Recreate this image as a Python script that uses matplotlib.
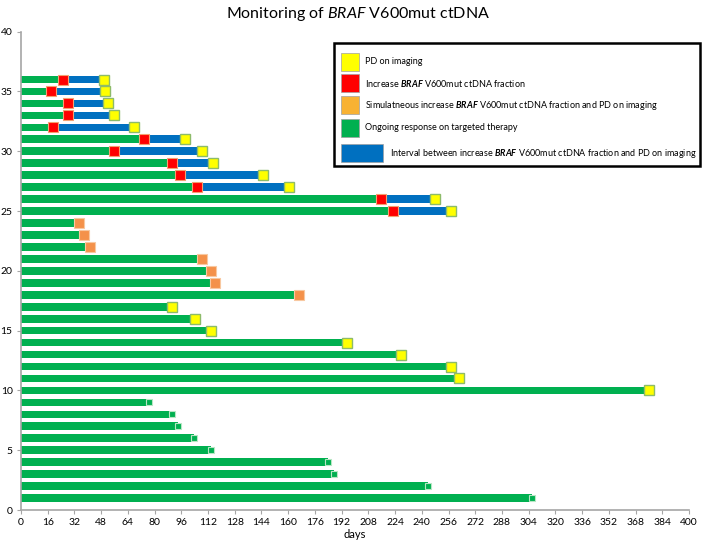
import matplotlib
matplotlib.use("Agg")
import matplotlib.pyplot as plt
from matplotlib.patches import Rectangle

plt.rcParams['font.family'] = ['Lato', 'DejaVu Sans']
plt.rcParams['mathtext.fontset'] = 'custom'
plt.rcParams['mathtext.rm'] = 'Lato'
plt.rcParams['mathtext.it'] = 'Lato:italic'
plt.rcParams['mathtext.bf'] = 'Lato:bold'
plt.rcParams['mathtext.bfit'] = 'Lato:italic:bold'

# ongoing response (rows 1-9): end of follow-up in days
ongoing_rows = [1, 2, 3, 4, 5, 6, 7, 8, 9]
ongoing_days = [306, 243.6, 187.5, 183.7, 113.9, 103.8, 94.2, 90.3, 76.6]

# PD on imaging only (rows 10-17)
pd_rows = [10, 11, 12, 13, 14, 15, 16, 17]
pd_days = [376, 262.5, 257.3, 227.5, 195, 114, 104.2, 90.2]

# simultaneous ctDNA increase and PD (rows 18-24)
sim_rows = [18, 19, 20, 21, 22, 23, 24]
sim_days = [166.7, 116.3, 114, 108.4, 41.5, 37.5, 34.7]

# ctDNA increase before PD (rows 25-36)
int_rows = [25, 26, 27, 28, 29, 30, 31, 32, 33, 34, 35, 36]
int_red = [223, 215.8, 105.4, 95.4, 90.4, 55.7, 73.7, 19.2, 28, 28, 18, 25]
int_pd = [257.3, 248, 160.3, 145, 115, 108.2, 98.4, 67.5, 55.7, 52.3, 50.5, 49.5]

GREEN = '#00B050'
RED = '#FF0000'
BLUE = '#0070C0'
YELLOW = '#FFFF00'
ORANGE = '#F4914A'
ORANGE_LEG = '#F8B233'

fig = plt.figure(figsize=(7.09, 5.45), dpi=100)
ax = fig.add_axes([21 / 709, 1 - 510 / 545, 668 / 709, 478.3 / 545])

h = 0.64
ax.barh(ongoing_rows, ongoing_days, height=h, color=GREEN, zorder=2)
ax.barh(pd_rows, pd_days, height=h, color=GREEN, zorder=2)
ax.barh(sim_rows, sim_days, height=h, color=GREEN, zorder=2)
ax.barh(int_rows, int_red, height=h, color=GREEN, zorder=2)
ax.barh(int_rows, [p - r for p, r in zip(int_pd, int_red)], left=int_red,
        height=h, color=BLUE, zorder=2)

ax.plot(ongoing_days, ongoing_rows, 's', ms=5, color=GREEN, mec='#B8E6C4',
        mew=0.8, zorder=3)
ax.plot(pd_days, pd_rows, 's', ms=6.8, color=YELLOW, mec='#8DBB6A',
        mew=1.0, zorder=3)
ax.plot(sim_days, sim_rows, 's', ms=7.2, color=ORANGE, mec='#F8C8A0',
        mew=0.8, zorder=3)
ax.plot(int_red, int_rows, 's', ms=7.6, color=RED, mec='#F4A070',
        mew=0.8, zorder=3)
ax.plot(int_pd, int_rows, 's', ms=6.8, color=YELLOW, mec='#8DBB6A',
        mew=1.0, zorder=3)

ax.set_xlim(0, 400)
ax.set_ylim(0, 40)
ax.set_xticks(range(0, 401, 16))
ax.set_yticks(range(0, 41, 5))
for s in ['top', 'right']:
    ax.spines[s].set_visible(False)
for s in ['left', 'bottom']:
    ax.spines[s].set_color('#A6A6A6')
    ax.spines[s].set_linewidth(1.2)
ax.tick_params(direction='out', length=3, color='#A6A6A6', labelsize=7.5,
               pad=3)
ax.set_xlabel('days', fontsize=8, labelpad=1)

fig.text(358 / 709, 1 - 14 / 545, r'Monitoring of $\mathit{BRAF}$ V600mut ctDNA',
         ha='center', va='center', fontsize=11.5)


# legend drawn by hand in pixel coords
def fx(x):
    return x / 709


def fy(y):
    return 1 - y / 545


fig.add_artist(Rectangle((fx(334), fy(166)), fx(700) - fx(334), fy(43) - fy(166),
                         transform=fig.transFigure, fill=False, ec='black', lw=1.8))

leg_cols = [YELLOW, RED, ORANGE_LEG, GREEN]
leg_y = [62, 83, 105, 128]
leg_txt = ['PD on imaging',
           r'Increase $\mathbfit{BRAF}$ V600mut ctDNA fraction',
           r'Simulatneous increase $\mathbfit{BRAF}$ V600mut ctDNA fraction and PD on imaging',
           'Ongoing response on targeted therapy']
for c, y, t in zip(leg_cols, leg_y, leg_txt):
    fig.add_artist(Rectangle((fx(341), fy(y + 9)), fx(18), 18 / 545,
                             transform=fig.transFigure, fc=c, ec='#A0A0A0', lw=0.5))
    fig.text(fx(365), fy(y), t, fontsize=6.5, va='center', ha='left')

fig.add_artist(Rectangle((fx(341), fy(162)), fx(42), 18 / 545,
                         transform=fig.transFigure, fc=BLUE, ec='#A0A0A0', lw=0.5))
fig.text(fx(390), fy(153),
         r'Interval between increase $\mathbfit{BRAF}$ V600mut ctDNA fraction and PD on imaging',
         fontsize=6.5, va='center', ha='left')

fig.savefig('out.png', dpi=100)
